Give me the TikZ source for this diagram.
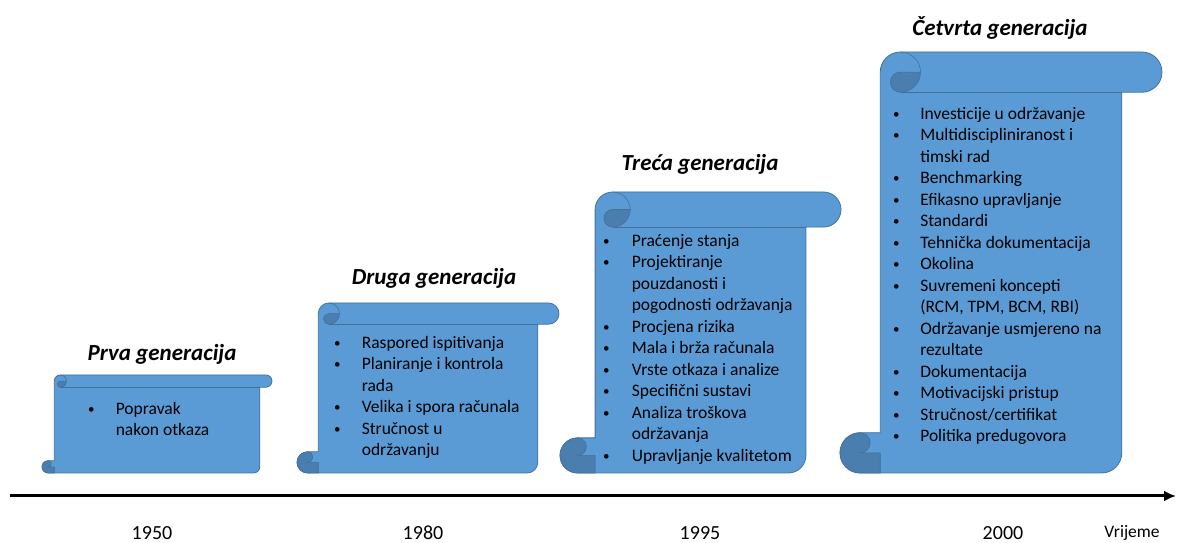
\documentclass[tikz,border=0pt]{standalone}
\usepackage{fontspec}
\setmainfont{Carlito}
\usetikzlibrary{arrows.meta}
\definecolor{scrollfill}{HTML}{5B9BD5}
\definecolor{scrolledge}{HTML}{41719C}
\definecolor{scrolldark}{HTML}{4A7EAE}
\newcommand\blt{\hspace*{1.2pt}\raisebox{1.2pt}{\fontsize{13}{13}\selectfont\textbullet}}

\begin{document}
\begin{tikzpicture}[x=1pt, y=1pt,
  body/.style={fill=scrollfill, draw=scrolledge, line width=0.8pt},
  curl/.style={fill=scrolldark, draw=scrolledge, line width=0.6pt},
  edge/.style={draw=scrolledge, line width=0.6pt},
  ttl/.style={font=\fontsize{23}{27}\selectfont\bfseries\itshape, inner sep=0pt},
  lst/.style={font=\fontsize{17.5}{21.5}\selectfont, inner sep=0pt, anchor=north west},
  yr/.style={font=\fontsize{20}{24}\selectfont, inner sep=0pt},
  axis/.style={-{Latex[length=12pt, width=11pt]}, line width=3pt}]

\useasboundingbox (0,0) rectangle (1179,543);

% =================== the four scrolls ===================
\foreach \xl/\xr/\yt/\cc in {42/272/168/12.25, 297/559/240/21.25,
                             560/841/351/35.1, 840/1162/491/40.25} {
  \pgfmathsetmacro\hr{\cc/2}
  \pgfmathsetmacro\qr{\cc/4}
  \pgfmathsetmacro\yb{70}
  % body with the top roll
  \draw[body] ({\xl+\cc},{\yt-\hr}) arc[start angle=180, end angle=90, radius=\hr]
     -- ({\xr-\hr},\yt) arc[start angle=90, end angle=-90, radius=\hr]
     -- ({\xr-\cc},{\yt-\cc}) -- ({\xr-\cc},{\yb+\hr})
     arc[start angle=0, end angle=-90, radius=\hr]
     -- ({\xl+\hr},\yb) arc[start angle=270, end angle=90, radius=\hr]
     -- ({\xl+\cc},{\yb+\cc}) -- cycle;
  % curl of the top roll
  \draw[curl] ({\xl+\cc+\hr},{\yt-\hr}) arc[start angle=90, end angle=270, radius=\qr]
     arc[start angle=-90, end angle=0, radius=\hr] -- cycle;
  \draw[edge] ({\xl+2*\cc},{\yt-\hr}) arc[start angle=0, end angle=90, radius=\hr];
  \draw[edge] ({\xl+\cc+\hr},{\yt-\cc}) -- ({\xr-\cc},{\yt-\cc});
  % curl of the bottom roll
  \draw[curl] ({\xl+\hr},{\yb+\cc}) arc[start angle=90, end angle=270, radius=\hr]
     -- ({\xl+\cc},\yb) -- ({\xl+\cc},{\yb+\hr}) -- ({\xl+\hr},{\yb+\hr})
     arc[start angle=-90, end angle=90, radius=\qr] -- cycle;
}

% =================== titles ===================
\node[ttl] (prva)    at (162,189) {Prva generacija};
\node[ttl] (druga)   at (434,265) {Druga generacija};
\node[ttl] (treca)   at (700,379) {Treća generacija};
\node[ttl] (cetvrta) at (1000,515) {Četvrta generacija};

% =================== lists ===================
\node[lst] (prvalist) at (86.6,144) {\begin{tabular}{@{}p{29pt}@{}l@{}}
  \blt & Popravak\\
       & nakon otkaza
\end{tabular}};

\node[lst] (drugalist) at (332.6,210) {\begin{tabular}{@{}p{29pt}@{}l@{}}
  \blt & Raspored ispitivanja\\
  \blt & Planiranje i kontrola\\
       & rada\\
  \blt & Velika i spora računala\\
  \blt & Stručnost u\\
       & održavanju
\end{tabular}};

\node[lst] (trecalist) at (601.6,312) {\begin{tabular}{@{}p{30pt}@{}l@{}}
  \blt & Praćenje stanja\\
  \blt & Projektiranje\\
       & pouzdanosti i\\
       & pogodnosti održavanja\\
  \blt & Procjena rizika\\
  \blt & Mala i brža računala\\
  \blt & Vrste otkaza i analize\\
  \blt & Specifični sustavi\\
  \blt & Analiza troškova\\
       & održavanja\\
  \blt & Upravljanje kvalitetom
\end{tabular}};

\node[lst] (cetvrtalist) at (891.6,439) {\begin{tabular}{@{}p{28.5pt}@{}l@{}}
  \blt & Investicije u održavanje\\
  \blt & Multidiscipliniranost i\\
       & timski rad\\
  \blt & Benchmarking\\
  \blt & Efikasno upravljanje\\
  \blt & Standardi\\
  \blt & Tehnička dokumentacija\\
  \blt & Okolina\\
  \blt & Suvremeni koncepti\\
       & (RCM, TPM, BCM, RBI)\\
  \blt & Održavanje usmjereno na\\
       & rezultate\\
  \blt & Dokumentacija\\
  \blt & Motivacijski pristup\\
  \blt & Stručnost/certifikat\\
  \blt & Politika predugovora
\end{tabular}};

% =================== time axis ===================
\coordinate (t0) at (10,47);
\coordinate (t1) at (1176,47);
\draw[axis] (t0) -- (t1);

\node[yr] (y1950) at (152,10) {1950};
\node[yr] (y1980) at (423,10) {1980};
\node[yr] (y1995) at (700,10) {1995};
\node[yr] (y2000) at (1003,10) {2000};
\node[yr, font=\fontsize{17.5}{21}\selectfont] (vrijeme) at (1132,10) {Vrijeme};
\end{tikzpicture}
\end{document}
